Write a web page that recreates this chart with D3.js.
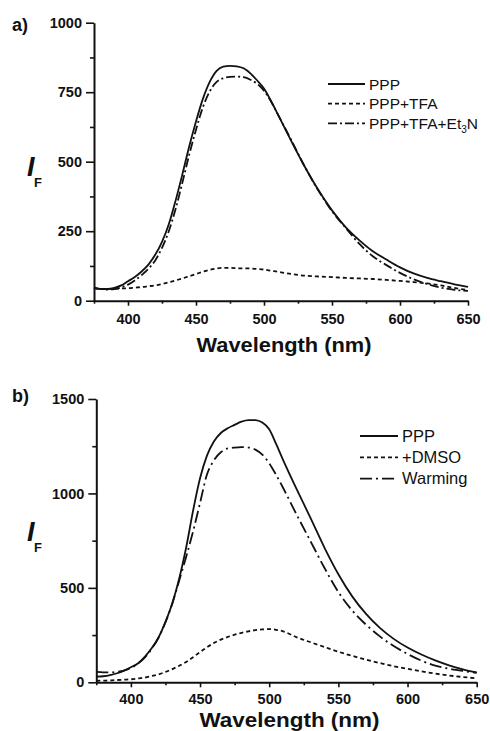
<!DOCTYPE html>
<html>
<head>
<meta charset="utf-8">
<script src="https://cdn.jsdelivr.net/npm/d3@7"></script>
<style>
	body { margin: 0; background: #fff; }
	svg text { font-family: "Liberation Sans", Arial, sans-serif; fill: #111; }
</style>
</head>
<body>
<div id="chart"></div>
<script>
/** Data **/
var wavelength = [375, 380, 385, 390, 395, 400, 405, 410, 415, 420, 425, 430, 435, 440, 445, 450, 455, 460, 465, 470,
	475, 480, 485, 490, 495, 500, 505, 510, 520, 530, 540, 550, 560, 570, 580, 590, 600, 610, 620, 630, 640, 650];

// panel a)
var a_ppp = [48, 42, 42, 46, 55, 70, 85, 105, 130, 165, 212, 275, 360, 455, 555, 645, 725, 786, 826, 842,
	845, 843, 836, 818, 792, 763, 720, 672, 575, 482, 398, 325, 265, 218, 178, 148, 120, 98, 82, 70, 59, 50];
var a_tfa = [45, 42, 42, 43, 44, 45, 47, 49, 52, 55, 60, 66, 73, 80, 88, 96, 104, 111, 116, 118,
	118, 117, 116, 116, 114, 112, 108, 104, 96, 90, 87, 85, 82, 80, 78, 75, 71, 67, 62, 55, 46, 38];
var a_et3n = [45, 42, 40, 42, 48, 58, 73, 92, 115, 145, 190, 250, 330, 425, 525, 615, 695, 752, 786, 800,
	805, 806, 804, 795, 780, 755, 718, 672, 578, 482, 396, 322, 262, 205, 160, 128, 100, 77, 60, 47, 39, 35];

// panel b)
var b_ppp = [30, 32, 38, 48, 62, 80, 100, 135, 180, 238, 320, 420, 551, 715, 910, 1080, 1200, 1275, 1320, 1345,
	1363, 1380, 1388, 1388, 1375, 1340, 1262, 1178, 1020, 868, 712, 572, 455, 362, 288, 230, 184, 147, 116, 90, 69, 52];
var b_dmso = [8, 9, 10, 12, 14, 16, 20, 25, 33, 42, 55, 70, 88, 108, 133, 160, 185, 208, 226, 240,
	252, 262, 270, 276, 280, 282, 278, 270, 238, 212, 187, 162, 140, 120, 102, 85, 71, 58, 46, 36, 28, 21];
var b_warm = [55, 53, 52, 55, 62, 76, 98, 130, 177, 236, 318, 418, 540, 665, 800, 950, 1100, 1175, 1218, 1238,
	1243, 1245, 1243, 1232, 1205, 1160, 1098, 1030, 885, 745, 605, 478, 380, 305, 243, 192, 150, 115, 88, 72, 60, 50];

var legendA = ["PPP", "PPP+TFA", "PPP+TFA+Et_3N"];
var legendB = ["PPP", "+DMSO", "Warming"];

var xTicks = [400, 450, 500, 550, 600, 650];
var xMinor = [375, 425, 475, 525, 575, 625];
var yTicksA = [0, 250, 500, 750, 1000];
var yMinorA = [125, 375, 625, 875];
var yTicksB = [0, 500, 1000, 1500];
var yMinorB = [250, 750, 1250];

// line styles: solid, dashed, dash-dot
var dashA = [null, "4,3", "9,3,2,3"];
var dashB = [null, "4,3", "12,4,2,4"];

var svg = d3.select("#chart")
	.append("svg")
	.attr("width", 490)
	.attr("height", 731);

drawPanel({
	tag: "a)", tagY: 31,
	left: 94, right: 468, top: 22.7, bottom: 300.7,
	yMax: 1000, yTicks: yTicksA, yMinor: yMinorA,
	series: [a_ppp, a_tfa, a_et3n], dash: dashA,
	names: legendA, legX: 328, legW: 37, legY: 84, legStep: 19.7, legFont: 15.5,
	labelY: 324, titleY: 351.5, titleW: 175,
	iY: 176, fY: 187
});

drawPanel({
	tag: "b)", tagY: 402,
	left: 96.3, right: 476.7, top: 399, bottom: 682.3,
	yMax: 1500, yTicks: yTicksB, yMinor: yMinorB,
	series: [b_ppp, b_dmso, b_warm], dash: dashB,
	names: legendB, legX: 360, legW: 38, legY: 436, legStep: 21.3, legFont: 16.5,
	labelY: 704.5, titleY: 726.5, titleW: 180,
	iY: 541, fY: 552
});

function drawPanel(p)
{
	var x = d3.scaleLinear().domain([375, 650]).range([p.left, p.right]);
	var y = d3.scaleLinear().domain([0, p.yMax]).range([p.bottom, p.top]);

	var g = svg.append("g");

	// minor ticks first, no labels
	g.append("g")
		.attr("transform", "translate(0," + p.bottom + ")")
		.call(d3.axisBottom(x).tickValues(xMinor).tickSize(3).tickFormat(""))
		.call(function(s) { s.select(".domain").remove(); });
	g.append("g")
		.attr("transform", "translate(" + p.left + ",0)")
		.call(d3.axisLeft(y).tickValues(p.yMinor).tickSize(4).tickFormat(""))
		.call(function(s) { s.select(".domain").remove(); });

	var xAxis = g.append("g")
		.attr("transform", "translate(0," + p.bottom + ")")
		.call(d3.axisBottom(x).tickValues(xTicks).tickSize(5).tickSizeOuter(0).tickFormat(d3.format("d")));
	xAxis.selectAll("text")
		.attr("y", p.labelY - p.bottom)
		.attr("dy", 0);

	g.append("g")
		.attr("transform", "translate(" + p.left + ",0)")
		.call(d3.axisLeft(y).tickValues(p.yTicks).tickSize(8).tickPadding(4).tickSizeOuter(0).tickFormat(d3.format("d")));

	g.selectAll(".tick text")
		.style("font-size", "14.5px")
		.style("font-weight", "bold")
		.style("font-family", "'Liberation Sans', Arial, sans-serif")
		.attr("fill", "#111");
	g.selectAll(".domain").attr("stroke", "#111").attr("stroke-width", 2);
	g.selectAll(".tick line").attr("stroke", "#111").attr("stroke-width", 1.6);

	// curves
	var line = d3.line()
		.x(function(d, i) { return x(wavelength[i]); })
		.y(function(d) { return y(d); })
		.curve(d3.curveMonotoneX);

	p.series.forEach(function(s, i)
	{
		g.append("path")
			.datum(s)
			.attr("d", line)
			.attr("fill", "none")
			.attr("stroke", "#111")
			.attr("stroke-width", 1.8)
			.attr("stroke-dasharray", p.dash[i]);
	});

	// legend
	p.names.forEach(function(name, i)
	{
		var ly = p.legY + i * p.legStep;
		g.append("line")
			.attr("x1", p.legX).attr("x2", p.legX + p.legW)
			.attr("y1", ly).attr("y2", ly)
			.attr("stroke", "#111")
			.attr("stroke-width", 1.8)
			.attr("stroke-dasharray", p.dash[i]);

		var t = g.append("text")
			.attr("x", p.legX + p.legW + 4)
			.attr("y", ly + 5.5)
			.style("font-size", p.legFont + "px");
		// "_3" means subscript 3
		var parts = name.split("_");
		t.append("tspan").text(parts[0]);
		if (parts.length > 1)
		{
			t.append("tspan").attr("dy", 4).style("font-size", "10px").text(parts[1].charAt(0));
			t.append("tspan").attr("dy", -4).text(parts[1].slice(1));
		}
	});

	// axis titles
	g.append("text")
		.attr("x", (p.left + p.right) / 2 + 3)
		.attr("y", p.titleY)
		.attr("text-anchor", "middle")
		.attr("textLength", p.titleW)
		.attr("lengthAdjust", "spacingAndGlyphs")
		.style("font-size", "20px")
		.style("font-weight", "bold")
		.text("Wavelength (nm)");

	g.append("text")
		.attr("x", 27)
		.attr("y", p.iY)
		.style("font-size", "27px")
		.style("font-weight", "bold")
		.style("font-style", "italic")
		.text("I");
	g.append("text")
		.attr("x", 34)
		.attr("y", p.fY)
		.style("font-size", "13px")
		.style("font-weight", "bold")
		.text("F");

	g.append("text")
		.attr("x", 12)
		.attr("y", p.tagY)
		.style("font-size", "18px")
		.style("font-weight", "bold")
		.text(p.tag);
}
</script>
</body>
</html>
